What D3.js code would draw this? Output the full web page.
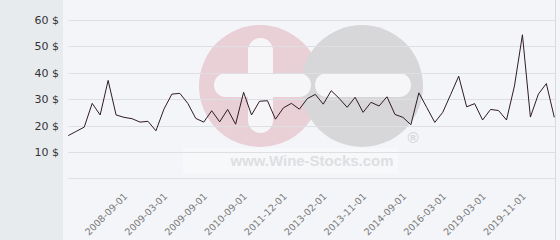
<!DOCTYPE html>
<html>
<head>
<meta charset="utf-8">
<script src="https://cdn.jsdelivr.net/npm/d3@7"></script>
<style>
  html, body { margin: 0; padding: 0; background: #f4f5f8; }
  svg { display: block; }
</style>
</head>
<body>
<svg id="chart" width="560" height="240"></svg>
<script>
// ---- data ----
const prices = [
  16.2, 17.8, 19.4, 28.4, 24.0, 37.1, 24.0, 23.1, 22.6, 21.3,
  21.6, 18.0, 26.2, 31.9, 32.2, 28.4, 22.7, 21.3, 25.6, 21.4,
  26.1, 20.5, 32.6, 24.0, 29.2, 29.4, 22.4, 26.7, 28.4, 26.2,
  30.2, 31.8, 28.1, 33.2, 30.3, 26.9, 30.7, 25.0, 28.8, 27.4,
  30.9, 24.2, 23.1, 20.3, 32.4, 26.8, 21.2, 25.0, 31.8, 38.7,
  27.1, 28.3, 22.1, 26.1, 25.7, 22.1, 35.0, 54.4, 23.2, 31.9,
  35.9, 23.1
];
const tickLabels = [
  "2008-09-01", "2009-03-01", "2009-09-01", "2010-09-01", "2011-12-01",
  "2013-02-01", "2013-11-01", "2014-09-01", "2016-03-01", "2019-03-01",
  "2019-11-01"
];
const tickPointIndex = [7, 12, 17, 22, 27, 32, 37, 42, 47, 52, 57];
const yTicks = [0, 10, 20, 30, 40, 50, 60];

// ---- layout ----
const W = 560, H = 240;
const plotLeft = 68.3, plotRight = 554.3, gridRight = 555;
const yTop = 20, yBottom = 178.3;

const svg = d3.select("#chart");

// backgrounds
svg.append("rect").attr("x", 0).attr("y", 0).attr("width", W).attr("height", H).attr("fill", "#f4f5f8");
svg.append("rect").attr("x", 0).attr("y", 0).attr("width", 63).attr("height", H).attr("fill", "#e7ebee");
svg.append("line").attr("x1", 555.5).attr("x2", 555.5).attr("y1", 0).attr("y2", H)
  .attr("stroke", "#d9dadd").attr("stroke-width", 1);

const x = d3.scalePoint().domain(d3.range(prices.length)).range([plotLeft, plotRight]);
const y = d3.scaleLinear().domain([0, 60]).range([yBottom, yTop]);

// watermark
const wm = svg.append("g").attr("class", "watermark");
wm.append("rect").attr("x", 183).attr("y", 148).attr("width", 215).attr("height", 26).attr("fill", "#f7f8fa");
wm.append("circle").attr("cx", 260).attr("cy", 86).attr("r", 61).attr("fill", "#e9cfd6");
wm.append("circle").attr("cx", 362).attr("cy", 86).attr("r", 61).attr("fill", "#d7d7d9");
wm.append("rect").attr("x", 248).attr("y", 38).attr("width", 25).attr("height", 95).attr("rx", 12.5).attr("fill", "#f6f6f9");
wm.append("rect").attr("x", 214).attr("y", 73).attr("width", 97).attr("height", 24).attr("rx", 12).attr("fill", "#f6f6f9");
wm.append("rect").attr("x", 315).attr("y", 73).attr("width", 96).attr("height", 24).attr("rx", 12).attr("fill", "#f6f6f9");
wm.append("text").attr("x", 312).attr("y", 166).attr("text-anchor", "middle")
  .attr("font-family", "Liberation Sans, Arial, sans-serif").attr("font-weight", "bold")
  .attr("font-size", 15).attr("fill", "#dedfe2")
  .attr("textLength", 163).attr("lengthAdjust", "spacingAndGlyphs")
  .text("www.Wine-Stocks.com");
wm.append("text").attr("x", 413).attr("y", 143).attr("text-anchor", "middle")
  .attr("font-family", "Liberation Sans, Arial, sans-serif").attr("font-weight", "bold")
  .attr("font-size", 15).attr("fill", "#d6d7da").text("®");

// gridlines
svg.append("g").selectAll("line").data(yTicks).join("line")
  .attr("x1", plotLeft).attr("x2", gridRight)
  .attr("y1", d => Math.round(y(d)) + 0.5).attr("y2", d => Math.round(y(d)) + 0.5)
  .attr("stroke", "#dedfe2").attr("stroke-width", 1);

// y axis labels
const yAxis = d3.axisLeft(y).tickValues(yTicks.filter(d => d > 0))
  .tickSize(0).tickPadding(0).tickFormat(d => d + " $");
const gy = svg.append("g").attr("transform", "translate(59,0)").call(yAxis);
gy.select(".domain").remove();
gy.selectAll("text").attr("font-family", "DejaVu Sans, sans-serif")
  .attr("font-size", 11).attr("fill", "#333");

// x axis labels
const gx = svg.append("g");
gx.selectAll("text").data(tickLabels).join("text")
  .attr("transform", (d, i) => `translate(${x(tickPointIndex[i]) + 4},197) rotate(-45)`)
  .attr("text-anchor", "end")
  .attr("font-family", "DejaVu Sans, sans-serif")
  .attr("font-size", 9.5).attr("fill", "#7a7a7a")
  .text(d => d);

// price line
const line = d3.line().x((d, i) => x(i)).y(d => y(d));
svg.append("path").datum(prices)
  .attr("d", line).attr("fill", "none")
  .attr("stroke", "#2e1c26").attr("stroke-width", 1);
</script>
</body>
</html>
